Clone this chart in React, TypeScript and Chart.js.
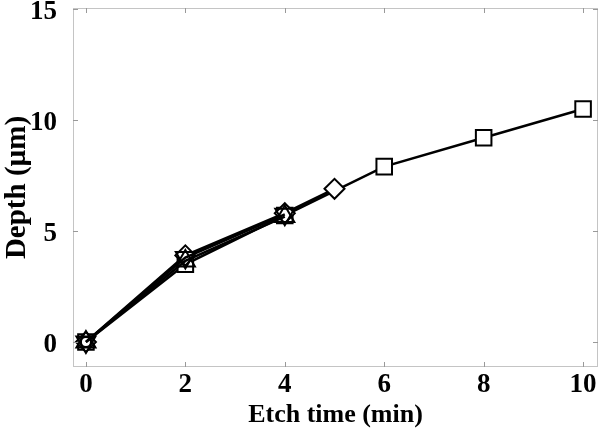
import React, { useEffect, useRef } from "react";
import { Chart, registerables } from "chart.js";

Chart.register(...registerables);

const xTicks = [0, 2, 4, 6, 8, 10];
const yTicks = [0, 5, 10, 15];

const squareX = [0, 2, 4, 6, 8, 10];
const squareY = [0, 3.5, 5.7, 7.9, 9.2, 10.5];

const diamondX = [0, 2, 4, 5];
const diamondY = [0, 3.9, 5.8, 6.9];

const triUpX = [0, 2, 4];
const triUpY = [0, 3.65, 5.65];

const triDownX = [0, 2, 4];
const triDownY = [0, 3.8, 5.75];

const circleX = [0];
const circleY = [0];

const pts = (xs: number[], ys: number[]) => xs.map((x, i) => ({ x, y: ys[i] }));

const FONT = "'Liberation Serif', 'Times New Roman', serif";

export default function App() {
  const ref = useRef<HTMLCanvasElement | null>(null);
  useEffect(() => {
    document.body.style.margin = "0";
    const ctx = ref.current!;
    const boxPlugin = {
      id: "box",
      afterDraw(chart: any) {
        const { ctx, chartArea } = chart;
        ctx.save();
        ctx.strokeStyle = "#c4c4c4";
        ctx.lineWidth = 1;
        ctx.strokeRect(chartArea.left + 0.5, chartArea.top + 0.5, chartArea.right - chartArea.left - 1, chartArea.bottom - chartArea.top - 1);
        ctx.strokeStyle = "#999";
        const xs = chart.scales.x, ys = chart.scales.y;
        for (const v of xTicks) {
          const px = Math.round(xs.getPixelForValue(v)) + 0.5;
          ctx.beginPath();
          ctx.moveTo(px, chartArea.bottom);
          ctx.lineTo(px, chartArea.bottom - 5);
          ctx.moveTo(px, chartArea.top);
          ctx.lineTo(px, chartArea.top + 5);
          ctx.stroke();
        }
        for (const v of yTicks) {
          const py = Math.round(ys.getPixelForValue(v)) + 0.5;
          ctx.beginPath();
          ctx.moveTo(chartArea.left, py);
          ctx.lineTo(chartArea.left + 5, py);
          ctx.moveTo(chartArea.right, py);
          ctx.lineTo(chartArea.right - 5, py);
          ctx.stroke();
        }
        ctx.restore();
      },
    };
    const common = {
      borderColor: "#000",
      borderWidth: 2.5,
      pointBorderColor: "#000",
      pointBorderWidth: 2,
      showLine: true,
      tension: 0,
      clip: false as any,
    };
    const chart = new Chart(ctx, {
      type: "scatter",
      data: {
        datasets: [
          { ...common, data: pts(circleX, circleY), pointStyle: "circle", pointRadius: 5, pointBackgroundColor: "rgba(0,0,0,0)" },
          { ...common, data: pts(triUpX, triUpY), pointStyle: "triangle", pointRadius: 11, pointBackgroundColor: "rgba(0,0,0,0)" },
          { ...common, data: pts(triDownX, triDownY), pointStyle: "triangle", pointRotation: 180, pointRadius: 11, pointBackgroundColor: "rgba(0,0,0,0)" } as any,
          { ...common, data: pts(diamondX, diamondY), pointStyle: "rectRot", pointRadius: 10, pointBackgroundColor: "#fff" },
          { ...common, data: pts(squareX, squareY), pointStyle: "rect", pointRadius: 11, pointBackgroundColor: "#fff" },
        ],
      },
      options: {
        animation: false,
        responsive: false,
        maintainAspectRatio: false,
        layout: { autoPadding: false, padding: { top: 8, right: 2, left: 0, bottom: 0 } },
        plugins: { legend: { display: false }, tooltip: { enabled: false } },
        scales: {
          x: {
            type: "linear",
            min: -0.26,
            max: 10.3,
            grid: { display: false, drawTicks: false },
            border: { display: false },
            afterBuildTicks: (s: any) => { s.ticks = xTicks.map((v) => ({ value: v })); },
            afterFit: (s: any) => { s.height = 64; s.paddingLeft = 0; s.paddingRight = 0; },
            ticks: { color: "#000", font: { family: FONT, size: 27, weight: "bold" }, padding: 2, maxRotation: 0 },
            title: { display: true, text: "Etch time (min)", color: "#000", font: { family: FONT, size: 26, weight: "bold" }, padding: { top: 0, bottom: 0 } },
          },
          y: {
            type: "linear",
            min: -1.13,
            max: 15.05,
            grid: { display: false, drawTicks: false },
            border: { display: false },
            afterBuildTicks: (s: any) => { s.ticks = yTicks.map((v) => ({ value: v })); },
            afterFit: (s: any) => { s.width = 73; s.paddingTop = 0; s.paddingBottom = 0; },
            ticks: { color: "#000", font: { family: FONT, size: 27, weight: "bold" }, padding: 16, labelOffset: 3 },
            title: { display: true, text: "Depth (µm)", color: "#000", font: { family: FONT, size: 29, weight: "bold" }, padding: { top: 0, bottom: 0 } },
          },
        },
      },
      plugins: [boxPlugin],
    } as any);
    return () => chart.destroy();
  }, []);
  return (
    <div style={{ width: 600, height: 431, background: "#fff" }}>
      <canvas ref={ref} width={600} height={431} style={{ display: "block" }} />
    </div>
  );
}
